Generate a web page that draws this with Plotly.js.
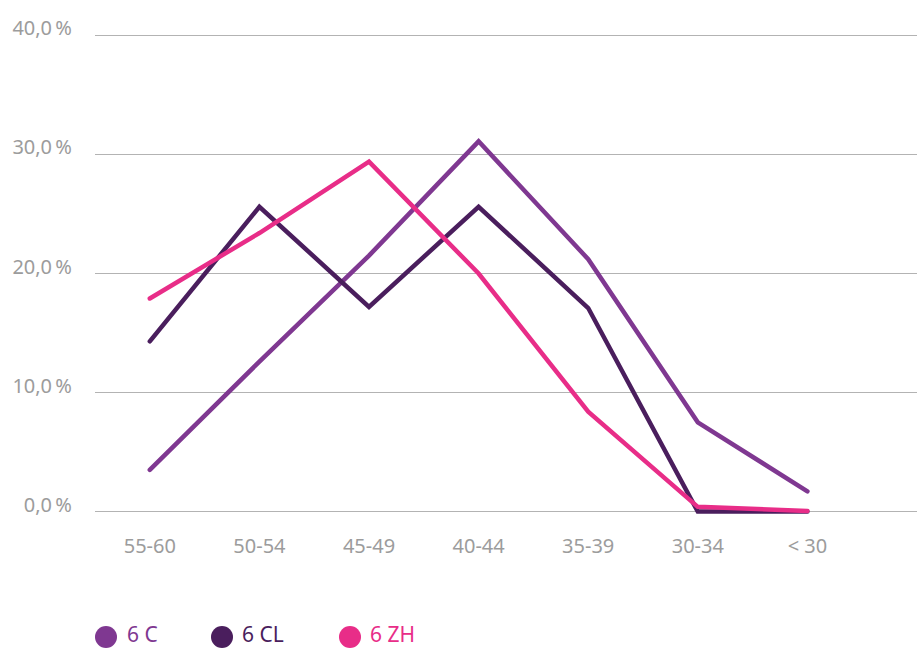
<!DOCTYPE html>
<html><head><meta charset="utf-8">
<script src="https://cdn.plot.ly/plotly-3.0.1.min.js"></script>
<style>html,body{margin:0;padding:0;background:#fff}#chart{width:917px;height:648px}
#chart path.js-line{stroke-linecap:round}</style>
</head><body><div id="chart"></div>
<script>
const categories = ["55-60","50-54","45-49","40-44","35-39","30-34","< 30"];
const seriesNames = ["6 C","6 CL","6 ZH"];
const values6C  = [3.5, 12.6, 21.5, 31.1, 21.2, 7.5, 1.7];
const values6CL = [14.3, 25.6, 17.2, 25.6, 17.1, 0.0, 0.0];
const values6ZH = [17.9, 23.4, 29.4, 20.0, 8.4, 0.4, 0.05];
const yTickVals = [0, 10, 20, 30, 40];
const yTickText = ["0,0\u2009%","10,0\u2009%","20,0\u2009%","30,0\u2009%","40,0\u2009%"];
const colors = ["#7F3891","#4A1E5D","#E82D88"];

const allValues = [values6C, values6CL, values6ZH];
const traces = allValues.map((v, i) => ({
  type: 'scatter', mode: 'lines', x: categories, y: v, name: seriesNames[i],
  line: {color: colors[i], width: 4.5}, showlegend: false, hoverinfo: 'skip'
}));

// plot area: top 33px, bottom 514px (height 481) -> y range [-0.2, 40.2]
const plotTop = 33, plotBottom = 514, plotH = plotBottom - plotTop;
const yPaper = (px) => (plotBottom - px) / plotH;
const xPaper = (px) => (px - 95) / 822;

const shapes = [], annotations = [];
const circleX = [106, 222, 350];
const textX = [125, 240, 368];
const legendY = 634;
seriesNames.forEach((n, i) => {
  shapes.push({type:'circle', xref:'paper', yref:'paper', layer:'above',
    x0:xPaper(circleX[i]-11), x1:xPaper(circleX[i]+11),
    y0:yPaper(637+11), y1:yPaper(637-11),
    fillcolor: colors[i], line:{width:0}});
  annotations.push({xref:'paper', yref:'paper', x:xPaper(textX[i]), y:yPaper(legendY),
    xanchor:'left', yanchor:'middle', text:n, showarrow:false,
    font:{family:'Noto Sans, sans-serif', size:21, color:colors[i]}});
});

const layout = {
  width: 917, height: 648,
  margin: {l:95, r:0, t:plotTop, b:648-plotBottom},
  paper_bgcolor:'#fff', plot_bgcolor:'#fff',
  showlegend:false,
  xaxis: {type:'category', range:[-0.5, 7.0], showgrid:false, zeroline:false,
    showline:false, ticks:'', ticklabelstandoff: 18,
    tickfont:{family:'Noto Sans, sans-serif', size:20, color:'#9C9C9C'}},
  yaxis: {range:[-0.2, 40.2], tickvals:yTickVals, ticktext:yTickText,
    showgrid:true, gridcolor:'#B3B3B3', gridwidth:1.2, zeroline:false,
    showline:false, ticks:'', ticklabelstandoff: 22, ticklabelshift: -7,
    tickfont:{family:'Noto Sans, sans-serif', size:20, color:'#9C9C9C'}},
  shapes: shapes, annotations: annotations
};
Plotly.newPlot('chart', traces, layout, {displayModeBar:false, staticPlot:true});
</script></body></html>
